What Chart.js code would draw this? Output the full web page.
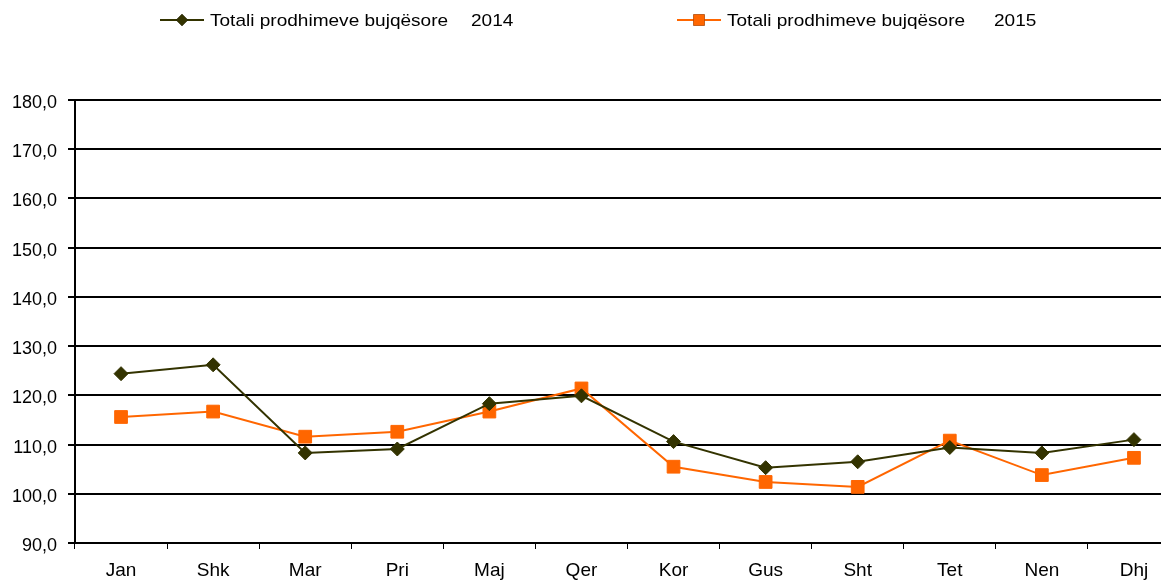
<!DOCTYPE html>
<html>
<head>
<meta charset="utf-8">
<script src="https://cdn.jsdelivr.net/npm/chart.js@4.4.1/dist/chart.umd.min.js"></script>
<style>
  html, body { margin: 0; padding: 0; background: #fff; overflow: hidden; }
  #chart { display: block; }
</style>
</head>
<body>
<canvas id="chart" width="1190" height="581"></canvas>
<script>
// ---- data ----
const months = ['Jan', 'Shk', 'Mar', 'Pri', 'Maj', 'Qer', 'Kor', 'Gus', 'Sht', 'Tet', 'Nen', 'Dhj'];
const values2014 = [124.4, 126.2, 108.3, 109.1, 118.3, 119.9, 110.6, 105.3, 106.5, 109.4, 108.3, 111.0];
const values2015 = [115.6, 116.7, 111.6, 112.6, 116.7, 121.4, 105.5, 102.4, 101.4, 110.8, 103.8, 107.3];
const seriesName = 'Totali prodhimeve bujqësore';
const years = ['2014', '2015'];
const yTicks = [90, 100, 110, 120, 130, 140, 150, 160, 170, 180];

const COLOR_2014 = '#333300';
const COLOR_2015 = '#FF6600';
const FONT = '"Liberation Sans", Arial, sans-serif';

// legend drawn by hand: line with marker in the middle, then the label
const legendPlugin = {
    id: 'lineLegend',
    afterDraw(chart) {
        const ctx = chart.ctx;
        const items = [
            { x: 160, yearX: 471, ds: 0 },
            { x: 677, yearX: 994, ds: 1 }
        ];
        const y = 20;
        ctx.save();
        items.forEach(it => {
            const ds = chart.data.datasets[it.ds];
            ctx.strokeStyle = ds.borderColor;
            ctx.lineWidth = 2;
            ctx.beginPath();
            ctx.moveTo(it.x, y);
            ctx.lineTo(it.x + 44, y);
            ctx.stroke();
            Chart.helpers.drawPoint(ctx, {
                pointStyle: ds.pointStyle,
                radius: it.ds === 0 ? 6 : 8
            }, it.x + 22, y);
            ctx.fillStyle = ds.pointBackgroundColor;
            ctx.fill();
            // label text is a little wider in the original, stretch it sideways
            ctx.fillStyle = '#000';
            ctx.font = '17px ' + FONT;
            ctx.textBaseline = 'middle';
            ctx.textAlign = 'left';
            ctx.save();
            ctx.translate(it.x + 50, y + 1);
            ctx.scale(1.12, 1);
            ctx.fillText(seriesName, 0, 0);
            ctx.restore();
            ctx.save();
            ctx.translate(it.yearX, y + 1);
            ctx.scale(1.12, 1);
            ctx.fillText(years[it.ds], 0, 0);
            ctx.restore();
        });
        ctx.restore();
    }
};

new Chart(document.getElementById('chart'), {
    type: 'line',
    data: {
        labels: months,
        datasets: [{
            label: seriesName + ' ' + years[0],
            data: values2014,
            borderColor: COLOR_2014,
            backgroundColor: COLOR_2014,
            pointBackgroundColor: COLOR_2014,
            pointBorderColor: COLOR_2014,
            borderWidth: 2,
            pointStyle: 'rectRot',
            pointRadius: 7,
            pointBorderWidth: 1,
            tension: 0
        }, {
            label: seriesName + ' ' + years[1],
            data: values2015,
            borderColor: COLOR_2015,
            backgroundColor: COLOR_2015,
            pointBackgroundColor: COLOR_2015,
            pointBorderColor: COLOR_2015,
            borderWidth: 2,
            pointStyle: 'rect',
            pointRadius: 9,
            pointBorderWidth: 1,
            tension: 0
        }]
    },
    options: {
        responsive: false,
        animation: false,
        layout: { padding: { top: 100, left: 0, right: 0, bottom: 0 } },
        plugins: {
            legend: { display: false },
            tooltip: { enabled: false }
        },
        scales: {
            x: {
                offset: true,
                grid: {
                    display: true,
                    offset: true,
                    drawOnChartArea: false,
                    drawTicks: true,
                    tickLength: 6,
                    color: '#000',
                    lineWidth: 1
                },
                border: { display: true, color: '#000', width: 2 },
                ticks: {
                    color: '#000',
                    font: { family: FONT, size: 19 },
                    padding: 10,
                    maxRotation: 0
                },
                afterFit(scale) { scale.height = 38; }
            },
            y: {
                min: 90,
                max: 180,
                afterBuildTicks(scale) {
                    scale.ticks = yTicks.map(v => ({ value: v }));
                },
                grid: {
                    color: '#000',
                    lineWidth: 2,
                    tickLength: 7,
                    drawTicks: true
                },
                border: { display: true, color: '#000', width: 2 },
                ticks: {
                    color: '#000',
                    font: { family: FONT, size: 18 },
                    padding: 11,
                    labelOffset: 3,
                    callback: v => v.toFixed(1).replace('.', ',')
                },
                afterFit(scale) { scale.width = 75; }
            }
        }
    },
    plugins: [legendPlugin]
});
</script>
</body>
</html>
